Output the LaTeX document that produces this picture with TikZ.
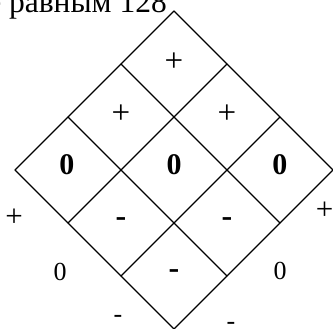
\documentclass[tikz,border=0pt]{standalone}
\usepackage{fontspec}
\setmainfont{Liberation Serif}
\usetikzlibrary{calc}
\begin{document}
\begin{tikzpicture}[x=1pt, y=-1pt,
  gridline/.style={line width=1.4pt, line cap=round},
  title/.style={font=\fontsize{31.5}{33}\selectfont, inner sep=0pt},
  cellsign/.style={font=\fontsize{33}{35}\selectfont, inner sep=0pt},
  cellzero/.style={font=\fontsize{30}{32}\selectfont\bfseries, inner sep=0pt},
  cellminus/.style={font=\fontsize{32}{34}\selectfont\bfseries, inner sep=0pt},
  outside/.style={font=\fontsize{26}{28}\selectfont, inner sep=0pt},
  outplus/.style={font=\fontsize{31}{33}\selectfont, inner sep=0pt}]
\useasboundingbox (0,0) rectangle (333,329);

% corners of the rotated 3x3 grid
\coordinate (T) at (174,11);
\coordinate (L) at (15,170);
\coordinate (R) at (333,170);
\coordinate (B) at (174,329);

% grid lines in both diagonal directions
\foreach \k in {0,...,3} {
  \draw[gridline] ($(T)!\k/3!(L)$) -- ($(R)!\k/3!(B)$);
  \draw[gridline] ($(T)!\k/3!(R)$) -- ($(L)!\k/3!(B)$);
}

% caption line above the grid
\node[title, anchor=base east] (cap) at (167,13) {е равным 128};

% cell entries
\node[cellsign] (c11) at (174,62) {+};
\node[cellsign] (c21) at (121,114) {+};
\node[cellsign] (c22) at (227,114) {+};
\node[cellzero] (c31) at (67,165) {0};
\node[cellzero] (c32) at (174,165) {0};
\node[cellzero] (c33) at (280,165) {0};
\node[cellminus] (c41) at (121,222) {-};
\node[cellminus] (c42) at (227,222) {-};
\node[cellminus] (c51) at (174,274) {-};

% marks outside the grid
\node[outplus] (l1) at (14,218) {+};
\node[outside] (l2) at (60,272) {0};
\node[outside] (l3) at (118,319) {-};
\node[outplus] (r1) at (324.5,211) {+};
\node[outside] (r2) at (280,271) {0};
\node[outside] (r3) at (231,326) {-};
\end{tikzpicture}
\end{document}
